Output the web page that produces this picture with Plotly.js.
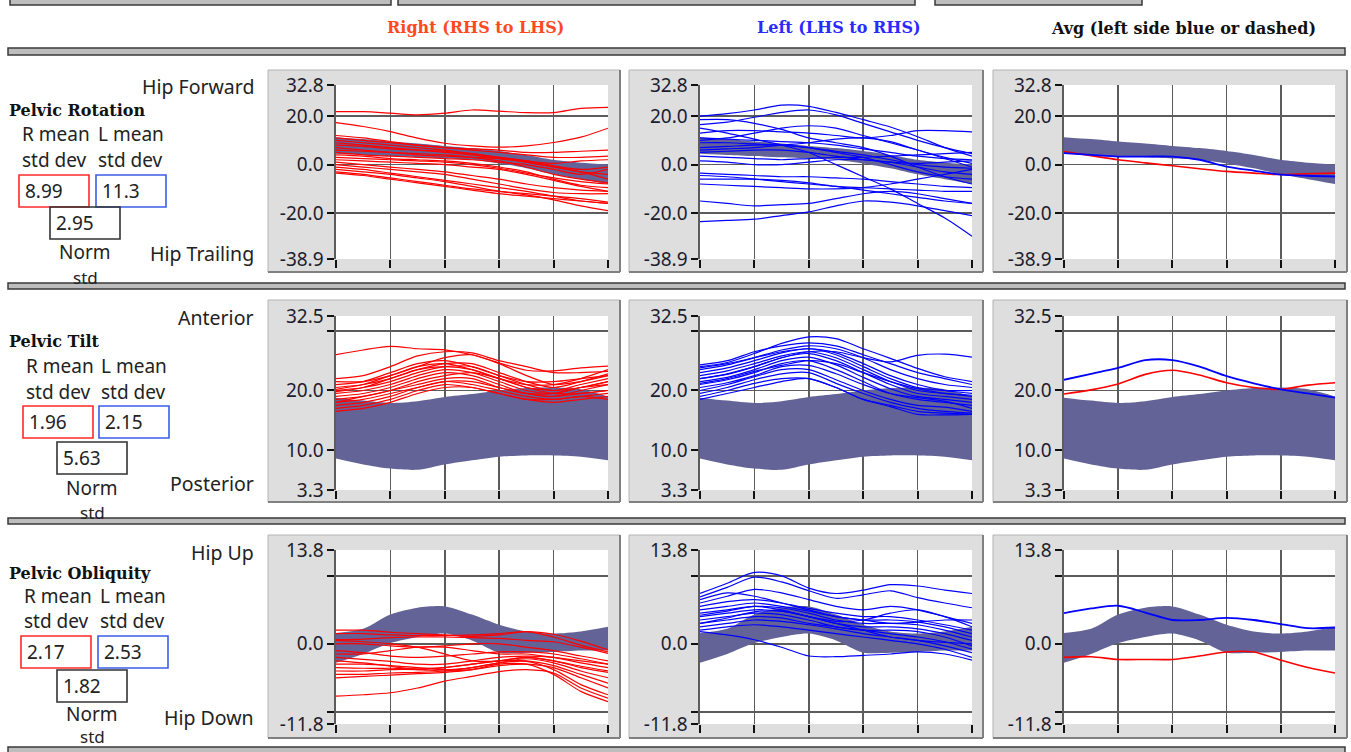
<!DOCTYPE html>
<html><head><meta charset="utf-8">
<script src="https://cdn.plot.ly/plotly-3.0.1.min.js"></script>
<style>html,body{margin:0;padding:0;background:#fff;} #chart{width:1351px;height:752px;}</style>
</head><body><div id="chart"></div>
<script>
// ---------- DATA ----------
const pct = [0,10,20,30,40,50,60,70,80,90,100];

// Pelvic Rotation
const rotNormUpper = [11.3,10.5,9.5,8.7,7.7,6.8,5.6,4.0,2.0,0.8,0.0];
const rotNormLower = [4.5,4.0,3.5,3.0,2.5,2.0,0.5,-1.5,-4.0,-6.0,-8.0];
const rotRightMean = [5.4,3.7,2.0,0.7,-0.5,-1.7,-2.8,-3.5,-4.1,-3.8,-3.5];
const rotLeftMean  = [4.7,4.0,3.3,3.3,3.3,2.0,-0.8,-2.5,-4.1,-4.6,-4.9];
const rotRightTrials = [
 [21.8,21.8,21.2,20.5,21.2,22.5,22.0,21.4,21.4,23.2,23.6],
 [17.3,15.7,13.6,10.9,8.8,7.7,7.2,7.7,9.1,11.3,15.0],
 [11.0,10.0,9.0,8.0,7.0,6.5,6.0,5.0,5.0,5.5,6.0],
 [12.0,11.0,9.5,8.0,7.0,6.0,5.0,4.0,3.0,3.0,3.5],
 [10.0,9.0,8.0,7.0,6.0,4.5,3.0,1.5,0.5,1.5,2.0],
 [9.0,8.0,7.0,6.0,5.0,4.0,2.5,1.0,-1.0,-3.0,-4.0],
 [8.0,7.5,6.5,6.0,5.5,4.5,3.0,1.5,-0.5,-2.0,-1.0],
 [7.0,6.0,5.0,4.0,3.5,3.0,2.5,1.0,-1.0,-3.0,-6.0],
 [6.0,5.5,5.0,4.5,4.0,3.0,1.5,-1.0,-4.0,-6.0,-7.5],
 [5.0,4.0,3.5,3.0,2.5,2.0,1.0,0.0,-2.0,-4.0,-2.0],
 [4.0,3.5,2.5,2.0,1.5,0.5,-1.0,-3.0,-6.0,-8.5,-9.5],
 [2.0,1.5,1.0,0.5,0.0,-1.0,-2.0,-4.0,-6.5,-9.0,-11.0],
 [0.0,-1.0,-2.0,-3.0,-4.0,-6.0,-8.0,-10.0,-11.5,-12.0,-12.0],
 [-1.0,-2.0,-3.5,-5.0,-6.5,-8.0,-9.5,-11.0,-13.0,-15.0,-16.0],
 [-2.0,-3.0,-4.0,-5.5,-7.0,-9.0,-11.0,-12.5,-14.5,-17.0,-19.0],
 [-3.0,-4.0,-5.5,-7.0,-8.5,-10.0,-11.0,-12.0,-13.0,-14.0,-15.5],
 [-3.5,-4.5,-6.0,-7.5,-9.0,-10.5,-12.0,-13.0,-14.0,-15.0,-16.0],
 [1.0,0.0,-1.0,-2.0,-3.0,-4.5,-6.0,-8.0,-9.5,-10.5,-11.0],
 [3.0,2.5,2.0,1.5,1.0,0.0,-1.5,-3.5,-5.5,-7.0,-8.0]
];
const rotLeftTrials = [
 [20.0,21.0,22.5,24.5,24.0,21.5,18.5,15.5,11.5,7.0,3.5],
 [16.5,17.5,19.5,21.5,22.5,20.5,17.0,13.5,10.0,7.0,4.5],
 [18.5,18.5,17.0,14.5,11.0,9.0,7.0,3.5,-1.0,-5.0,-8.0],
 [15.0,13.0,10.5,8.0,5.0,0.0,-5.0,-10.0,-16.0,-22.0,-29.5],
 [-23.5,-23.0,-22.5,-21.0,-19.5,-17.0,-15.0,-15.5,-17.0,-19.0,-21.0],
 [-15.0,-16.0,-17.0,-16.5,-16.0,-14.0,-12.0,-11.0,-12.0,-14.0,-16.0],
 [13.0,14.0,14.0,13.5,13.0,12.0,11.0,12.0,14.0,14.0,13.5],
 [11.0,10.5,10.0,9.5,9.0,8.0,6.5,5.0,3.5,2.5,2.0],
 [9.0,9.0,8.5,8.0,7.0,5.5,4.0,2.0,0.0,-1.0,-1.5],
 [7.0,7.5,8.0,8.0,7.0,5.0,3.0,0.0,-3.0,-5.0,-6.0],
 [5.0,5.5,6.0,6.0,5.0,3.5,2.0,1.0,0.5,1.0,1.5],
 [3.5,3.0,2.5,2.0,2.5,3.0,3.0,3.5,4.0,4.5,5.0],
 [1.5,1.0,0.0,0.0,1.0,2.0,2.0,1.0,-1.0,-3.0,-4.0],
 [-3.5,-4.0,-4.5,-5.0,-5.0,-5.5,-6.0,-7.0,-8.0,-9.0,-9.5],
 [-4.5,-5.0,-6.0,-7.0,-8.0,-9.0,-9.5,-10.0,-10.5,-11.0,-11.0],
 [-6.0,-6.0,-6.0,-6.5,-7.5,-9.0,-10.5,-12.0,-13.5,-15.0,-16.0],
 [-8.0,-8.5,-9.0,-9.5,-10.0,-10.0,-9.5,-8.0,-6.0,-4.0,-2.0],
 [10.0,11.0,13.0,15.0,16.0,15.0,12.0,9.0,6.0,3.0,0.5],
 [6.0,6.5,7.0,8.0,9.0,10.5,11.0,9.5,6.0,2.5,-1.0]
];

// Pelvic Tilt
const tiltNormUpper = [18.8,18.3,17.9,18.2,18.9,19.4,20.0,20.4,20.5,20.2,19.0];
const tiltNormLower = [8.6,7.6,6.9,6.7,7.6,8.3,8.9,9.1,9.1,8.9,8.3];
const tiltRightMean = [19.4,20.1,21.1,22.7,23.4,22.6,21.3,20.5,20.2,20.9,21.3];
const tiltLeftMean  = [21.8,22.8,23.8,25.1,25.1,24.0,22.4,21.2,20.2,19.5,18.8];
const tiltRightTrials = [
 [26.0,26.8,27.4,27.0,26.8,26.0,24.6,23.4,23.3,23.8,24.1],
 [22.0,22.5,24.0,25.8,26.5,26.3,25.0,24.0,23.0,23.0,23.2],
 [21.5,21.5,22.5,24.0,25.5,26.0,24.5,22.5,21.0,21.5,22.5],
 [20.5,21.0,22.0,23.5,24.5,24.5,23.0,21.5,20.5,21.5,22.8],
 [20.0,20.5,21.5,23.0,24.0,24.0,22.5,21.0,20.0,21.0,22.0],
 [19.5,20.0,21.0,22.5,23.5,23.0,21.5,20.0,19.5,20.5,21.5],
 [19.0,19.5,20.5,22.0,23.0,22.5,21.0,19.5,19.0,20.0,21.0],
 [18.5,19.0,20.0,21.0,22.0,22.0,20.5,19.5,19.0,19.5,20.0],
 [18.0,18.5,19.5,20.5,21.5,21.0,20.0,19.0,18.5,19.0,19.5],
 [17.5,18.0,19.0,20.5,21.5,21.5,20.5,19.5,19.5,20.5,21.0],
 [17.0,17.5,18.5,20.0,21.0,20.5,19.5,18.5,18.0,18.5,19.0],
 [16.5,17.0,18.0,19.5,20.5,20.5,19.5,18.5,18.5,19.0,18.5],
 [21.0,21.5,23.0,24.5,25.0,24.0,22.5,21.5,21.5,22.0,22.5],
 [19.8,20.5,22.0,23.5,24.0,23.5,22.0,21.0,21.0,22.0,23.5],
 [18.0,19.0,20.0,21.5,22.5,23.0,22.0,20.5,19.5,19.5,20.0],
 [20.2,21.0,22.5,24.0,24.5,23.5,22.0,20.5,20.0,20.5,21.5]
];
const tiltLeftTrials = [
 [24.0,24.7,26.2,27.9,29.0,28.7,27.0,25.4,23.7,22.3,21.5],
 [22.0,22.8,24.0,25.5,26.5,26.5,25.5,24.8,25.9,26.1,25.6],
 [23.5,24.3,25.5,26.8,27.5,27.0,25.5,23.5,22.0,21.0,20.5],
 [23.0,23.8,25.0,26.3,27.0,26.3,24.5,22.5,21.0,20.0,19.5],
 [22.5,23.3,24.5,25.8,26.5,25.5,23.5,21.5,20.0,19.5,19.0],
 [22.0,22.7,24.0,25.5,26.2,25.0,23.0,21.0,19.5,19.0,18.5],
 [21.5,22.2,23.5,25.0,25.6,24.3,22.2,20.3,19.0,18.5,18.0],
 [21.0,21.8,23.0,24.5,25.0,23.5,21.5,19.5,18.5,18.0,17.5],
 [20.5,21.3,22.5,24.0,24.2,22.8,21.0,19.5,18.8,18.2,17.0],
 [20.0,21.0,22.3,23.5,23.5,21.8,20.0,18.5,17.5,17.2,16.5],
 [19.5,20.5,21.8,22.8,23.0,21.2,19.5,18.0,17.0,16.5,16.2],
 [19.0,20.0,21.2,22.0,22.0,20.5,18.5,17.5,16.5,16.2,16.0],
 [18.5,19.5,20.5,21.5,22.0,20.5,18.5,17.3,16.0,15.9,16.0],
 [24.3,25.0,26.5,27.5,28.0,27.5,26.0,24.5,23.0,22.0,21.0],
 [23.8,24.5,25.5,26.5,27.0,26.0,24.0,22.0,20.5,20.0,20.0],
 [21.2,22.0,23.2,24.2,25.0,24.5,23.0,21.5,20.3,19.5,19.2]
];

// Pelvic Obliquity
const oblNormUpper = [1.6,2.2,4.3,5.3,5.5,4.3,2.8,1.8,1.5,1.8,2.5];
const oblNormLower = [-2.8,-1.5,0.1,1.0,1.5,0.5,-1.3,-1.3,-1.2,-1.0,-1.0];
const oblRightMean = [-2.0,-1.9,-2.3,-2.3,-2.3,-1.8,-1.2,-1.2,-2.4,-3.5,-4.3];
const oblLeftMean  = [4.5,5.2,5.6,4.6,3.5,3.5,3.8,3.5,2.9,2.3,2.4];
const oblRightTrials = [
 [2.0,2.0,1.7,1.5,1.3,1.1,1.3,1.8,1.4,0.4,-0.9],
 [1.5,1.5,1.3,1.2,1.2,1.3,1.5,1.8,1.0,-0.2,-1.2],
 [0.6,0.7,0.9,1.0,1.0,0.9,0.8,0.5,0.3,-0.5,-1.4],
 [0.0,0.0,-0.3,-0.5,-0.3,0.0,0.0,-0.5,-1.0,-1.8,-2.5],
 [-1.0,-1.3,-1.8,-2.0,-1.8,-1.5,-1.2,-1.2,-1.5,-2.2,-3.0],
 [-2.0,-2.3,-2.6,-3.0,-3.0,-2.5,-2.0,-1.8,-2.0,-2.8,-3.5],
 [-2.5,-2.8,-3.3,-3.8,-3.5,-3.0,-2.5,-2.0,-2.5,-3.5,-4.2],
 [-3.0,-3.0,-3.2,-3.5,-3.8,-3.5,-2.8,-2.2,-2.8,-4.0,-5.0],
 [-3.5,-3.6,-3.6,-3.6,-3.5,-3.0,-2.5,-2.5,-3.2,-4.5,-5.8],
 [-4.0,-4.0,-3.8,-3.8,-4.0,-3.8,-3.2,-3.0,-3.5,-5.0,-6.5],
 [-4.5,-4.5,-4.3,-4.2,-4.0,-3.5,-2.8,-2.6,-3.8,-6.0,-7.5],
 [-5.0,-4.8,-4.6,-4.4,-4.2,-3.8,-3.0,-3.0,-4.5,-7.0,-8.5],
 [-7.7,-7.5,-7.2,-6.5,-5.5,-4.8,-4.1,-3.8,-4.3,-6.5,-8.0],
 [-1.5,-1.5,-1.0,-0.5,-0.5,-1.0,-1.5,-1.5,-2.0,-2.5,-3.0],
 [0.5,0.3,0.0,-0.5,-1.5,-2.5,-2.5,-2.0,-2.5,-3.3,-4.0]
];
const oblLeftTrials = [
 [7.4,8.9,10.5,10.0,8.2,7.4,7.9,8.7,8.5,7.9,7.4],
 [6.9,8.3,9.8,9.1,7.8,6.7,7.2,7.8,6.8,6.0,5.3],
 [6.0,7.0,8.0,7.5,6.5,5.5,5.0,5.5,5.0,4.0,3.0],
 [5.5,6.2,6.5,6.0,5.2,4.5,4.0,4.0,3.5,2.8,2.0],
 [5.0,5.5,6.0,5.5,4.8,4.0,3.5,3.5,3.2,2.5,1.5],
 [4.5,5.0,5.5,5.3,4.5,3.5,3.0,3.0,2.8,2.0,1.0],
 [4.0,4.5,5.0,4.8,4.0,3.0,2.5,2.5,2.2,1.5,0.5],
 [3.5,4.0,4.5,4.3,3.5,2.5,2.0,2.0,1.8,1.0,-0.3],
 [3.0,3.5,4.0,3.8,3.0,2.5,2.0,1.5,1.0,0.3,-0.8],
 [2.5,3.0,3.5,3.3,2.8,2.2,1.5,1.0,0.5,-0.3,-1.3],
 [2.0,2.5,2.8,2.5,2.0,1.5,1.0,0.5,0.0,-0.8,-2.0],
 [1.8,1.3,0.6,-0.5,-1.8,-1.9,-1.7,-1.5,-1.2,-1.5,-2.4],
 [6.5,7.5,7.0,6.0,5.0,4.0,3.5,3.0,3.2,3.5,3.5],
 [3.0,3.8,4.7,4.8,4.0,3.0,2.0,1.0,0.5,0.2,0.0],
 [4.2,4.8,5.5,5.0,4.0,3.3,3.5,4.5,5.0,4.0,2.5]
];

// Axis tick labels per row
const rotTickVals = [-38.9,-20,0,20,32.8];
const rotTickText = ['-38.9','-20.0','0.0','20.0','32.8'];
const tiltTickVals = [3.3,10,20,30,32.5];
const tiltTickText = ['3.3','10.0','20.0','','32.5'];
const oblTickVals = [-11.8,-10,0,10,13.8];
const oblTickText = ['-11.8','','0.0','','13.8'];

// ---------- LAYOUT GEOMETRY ----------
const W = 1351, H = 752;
const colPx = [[336,608],[700,972],[1064,1335]];
const rowPx = [[85,259],[316,490],[550,724]];
const panelX = [[268,620],[629,983],[993,1347]];
const panelY = [[70,272],[300,502],[535,738]];
const px = x => x / W;
const py = y => 1 - y / H;

const RED = '#ff0000', BLUE = '#0000ff', BAND = '#636398';

const rows = [
  {lo:-38.9, hi:32.8, tv:rotTickVals, tt:rotTickText, up:rotNormUpper, low:rotNormLower,
   right:rotRightTrials, left:rotLeftTrials, rMean:rotRightMean, lMean:rotLeftMean},
  {lo:3.3, hi:32.5, tv:tiltTickVals, tt:tiltTickText, up:tiltNormUpper, low:tiltNormLower,
   right:tiltRightTrials, left:tiltLeftTrials, rMean:tiltRightMean, lMean:tiltLeftMean},
  {lo:-11.8, hi:13.8, tv:oblTickVals, tt:oblTickText, up:oblNormUpper, low:oblNormLower,
   right:oblRightTrials, left:oblLeftTrials, rMean:oblRightMean, lMean:oblLeftMean}
];

const traces = [];
const layout = {
  width: W, height: H,
  margin: {l:0, r:0, t:0, b:0},
  paper_bgcolor: '#ffffff',
  plot_bgcolor: 'rgba(0,0,0,0)',
  showlegend: false,
  shapes: [], annotations: []
};

function lineTrace(y, color, xa, ya, w) {
  return {x: pct, y: y, type: 'scatter', mode: 'lines', xaxis: xa, yaxis: ya,
    line: {color: color, width: w || 1.2, shape: 'spline', smoothing: 0.8}, hoverinfo: 'skip'};
}

rows.forEach((R, r) => {
  for (let c = 0; c < 3; c++) {
    const idx = r * 3 + c + 1;
    const xa = idx === 1 ? 'x' : 'x' + idx;
    const ya = idx === 1 ? 'y' : 'y' + idx;
    // panel and plot background
    layout.shapes.push({type:'rect', xref:'paper', yref:'paper', layer:'below',
      x0:px(panelX[c][0]), x1:px(panelX[c][1]), y0:py(panelY[r][1]), y1:py(panelY[r][0]),
      fillcolor:'#dedede', line:{color:'#b4b4b4', width:1}});
    layout.shapes.push({type:'line', xref:'paper', yref:'paper', layer:'below',
      x0:px(panelX[c][1]), x1:px(panelX[c][1]), y0:py(panelY[r][1]), y1:py(panelY[r][0]),
      line:{color:'#808080', width:2}});
    layout.shapes.push({type:'line', xref:'paper', yref:'paper', layer:'below',
      x0:px(panelX[c][0]), x1:px(panelX[c][1]), y0:py(panelY[r][1]), y1:py(panelY[r][1]),
      line:{color:'#808080', width:2}});
    layout.shapes.push({type:'rect', xref:'paper', yref:'paper', layer:'below',
      x0:px(colPx[c][0]), x1:px(colPx[c][1]), y0:py(rowPx[r][1]), y1:py(rowPx[r][0]),
      fillcolor:'#ffffff', line:{width:0}});

    layout['xaxis' + (idx === 1 ? '' : idx)] = {
      domain:[px(colPx[c][0]), px(colPx[c][1])], anchor: ya, range:[0,100],
      tickmode:'array', tickvals:[0,20,40,60,80,100], showticklabels:false,
      ticks:'outside', ticklen:8, tickwidth:2, tickcolor:'#111',
      showgrid:true, gridcolor:'#5c5c5c', gridwidth:1.6, zeroline:false, showline:false, fixedrange:true
    };
    layout['yaxis' + (idx === 1 ? '' : idx)] = {
      domain:[py(rowPx[r][1]), py(rowPx[r][0])], anchor: xa, range:[R.lo, R.hi],
      tickmode:'array', tickvals:R.tv, ticktext:R.tt,
      ticks:'outside', ticklen:7, tickwidth:2, tickcolor:'#111',
      tickfont:{family:'Noto Sans, sans-serif', size:19, color:'#1c1c2c'},
      showgrid:true, gridcolor:'#5c5c5c', gridwidth:1.6, zeroline:false,
      showline:true, linecolor:'#5c5c5c', linewidth:1.6, fixedrange:true
    };

    // normative band
    traces.push({x:pct, y:R.low, type:'scatter', mode:'lines', xaxis:xa, yaxis:ya,
      line:{width:0, shape:'spline', smoothing:0.8}, hoverinfo:'skip'});
    traces.push({x:pct, y:R.up, type:'scatter', mode:'lines', xaxis:xa, yaxis:ya,
      fill:'tonexty', fillcolor:BAND, line:{width:0, shape:'spline', smoothing:0.8}, hoverinfo:'skip'});

    if (c === 0) R.right.forEach(t => traces.push(lineTrace(t, RED, xa, ya)));
    if (c === 1) R.left.forEach(t => traces.push(lineTrace(t, BLUE, xa, ya)));
    if (c === 2) {
      traces.push(lineTrace(R.rMean, RED, xa, ya, 1.6));
      traces.push(lineTrace(R.lMean, BLUE, xa, ya, 1.8));
    }
  }
});

// separator bars
function bar(x0, x1, y0, y1) {
  layout.shapes.push({type:'rect', xref:'paper', yref:'paper', layer:'above',
    x0:px(x0), x1:px(x1), y0:py(y1), y1:py(y0), fillcolor:'#bdbdbd', line:{color:'#3a3a3a', width:1.5}});
}
bar(10, 391, -4, 5); bar(398, 915, -4, 5); bar(935, 1142, -4, 5);
bar(8, 1345, 48, 55);
bar(8, 1345, 283, 289);
bar(8, 1345, 518, 524);
bar(8, 1345, 747, 756);

// header texts
function ann(text, x, y, opts) {
  layout.annotations.push(Object.assign({text:text, xref:'paper', yref:'paper', x:px(x), y:py(y),
    showarrow:false, xanchor:'left', yanchor:'middle',
    font:{family:'Noto Sans, sans-serif', size:18, color:'#222'}}, opts || {}));
}
const serifBold = (size, color) => ({family:'DejaVu Serif, serif', size:size, color:color, weight:700});
ann('<b>Right (RHS to LHS)</b>', 476, 27, {xanchor:'center', font:serifBold(16, '#ff4a1f')});
ann('<b>Left (LHS to RHS)</b>', 839, 27, {xanchor:'center', font:serifBold(16, '#2a2aff')});
ann('<b>Avg (left side blue or dashed)</b>', 1183, 28, {xanchor:'center', font:serifBold(16, '#111')});

// left side labels
const sideLabels = [
  {title:'Pelvic Rotation', top:'Hip Forward', bottom:'Hip Trailing', rStd:'8.99', lStd:'11.3', nStd:'2.95',
   yTop:86, yTitle:110, yMean:134, yStd:160, boxR:[19,89,175,207], boxL:[96,166,175,207], boxN:[50,120,207,239],
   yNorm:252, yNstd:277, yBottom:253},
  {title:'Pelvic Tilt', top:'Anterior', bottom:'Posterior', rStd:'1.96', lStd:'2.15', nStd:'5.63',
   yTop:317, yTitle:341, yMean:366, yStd:392, boxR:[23,93,406,438], boxL:[99,169,406,438], boxN:[57,127,442,474],
   yNorm:488, yNstd:512, yBottom:484},
  {title:'Pelvic Obliquity', top:'Hip Up', bottom:'Hip Down', rStd:'2.17', lStd:'2.53', nStd:'1.82',
   yTop:552, yTitle:573, yMean:596, yStd:621, boxR:[21,91,636,668], boxL:[98,168,636,668], boxN:[57,127,670,702],
   yNorm:714, yNstd:736, yBottom:717}
];
function box(b, color) {
  layout.shapes.push({type:'rect', xref:'paper', yref:'paper', layer:'above',
    x0:px(b[0]), x1:px(b[1]), y0:py(b[3]), y1:py(b[2]), fillcolor:'rgba(255,255,255,0)', line:{color:color, width:1.6}});
}
const bigSans = {family:'Noto Sans, sans-serif', size:19.5, color:'#222'};
const midSans = {family:'Noto Sans, sans-serif', size:19, color:'#222'};
sideLabels.forEach(s => {
  ann(s.top, 256, s.yTop, {xanchor:'right', font:bigSans});
  ann(s.bottom, 256, s.yBottom, {xanchor:'right', font:bigSans});
  ann('<b>' + s.title + '</b>', 7, s.yTitle, {font:serifBold(16, '#111')});
  ann('R mean', s.boxR[0] + 1, s.yMean, {font:midSans});
  ann('L mean', s.boxL[0], s.yMean, {font:midSans});
  ann('std dev', s.boxR[0] + 1, s.yStd, {font:midSans});
  ann('std dev', s.boxL[0], s.yStd, {font:midSans});
  box(s.boxR, '#ff2a2a'); box(s.boxL, '#3a5ee8'); box(s.boxN, '#333333');
  ann(s.rStd, s.boxR[0] + 4, (s.boxR[2] + s.boxR[3]) / 2, {font:midSans});
  ann(s.lStd, s.boxL[0] + 4, (s.boxL[2] + s.boxL[3]) / 2, {font:midSans});
  ann(s.nStd, s.boxN[0] + 4, (s.boxN[2] + s.boxN[3]) / 2, {font:midSans});
  const cx = (s.boxN[0] + s.boxN[1]) / 2;
  ann('Norm', cx, s.yNorm, {xanchor:'center', font:midSans});
  ann('std', cx, s.yNstd, {xanchor:'center', font:{family:'Noto Sans, sans-serif', size:17, color:'#222'}});
});

Plotly.newPlot('chart', traces, layout, {displayModeBar:false, staticPlot:true});
</script>
</body></html>
